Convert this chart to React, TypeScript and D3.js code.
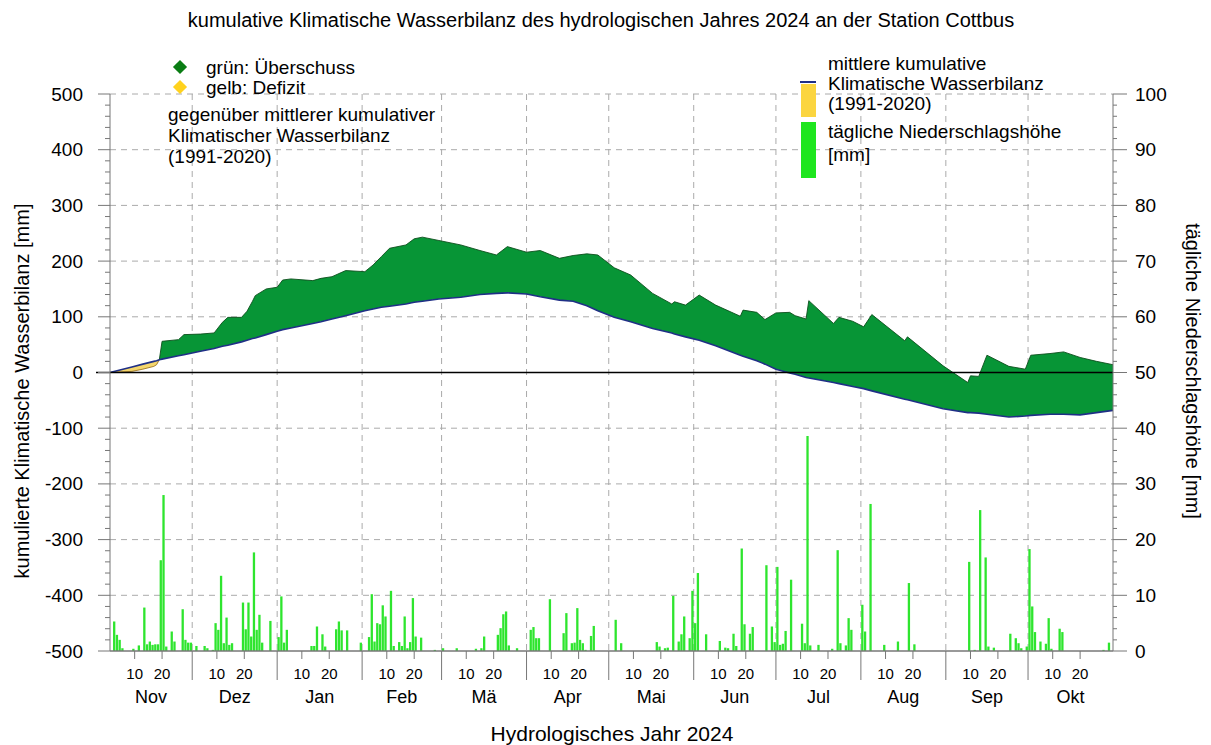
import * as d3 from 'd3';
import React from 'react';

// hydrological year Nov 2023 - Oct 2024, day 0 = 1 Nov
const monthNames = ['Nov', 'Dez', 'Jan', 'Feb', 'Mä', 'Apr', 'Mai', 'Jun', 'Jul', 'Aug', 'Sep', 'Okt'];
const monthDays = [30, 31, 31, 29, 31, 30, 31, 30, 31, 31, 30, 31];
const dayTicks = [10, 20];

const leftTicks = [500, 400, 300, 200, 100, 0, -100, -200, -300, -400, -500];
const rightTicks = [100, 90, 80, 70, 60, 50, 40, 30, 20, 10, 0];

// cumulative climatic water balance [mm]
const kwbDays = [
  0, 4, 8, 12, 16, 17, 18, 19, 25, 27, 33, 38, 41, 43, 48, 50, 52, 53, 57, 61, 63, 66, 74, 77, 81, 86, 93, 96,
  99, 102, 108, 111, 114, 120, 128, 135, 141, 145, 152, 157, 164, 169, 174, 178, 184, 190, 198, 205, 206, 210,
  215, 221, 230, 231, 236, 239, 243, 248, 250, 254, 255, 264, 266, 271, 275, 278, 290, 291, 304, 313, 314, 317,
  320, 328, 334, 336, 343, 348, 354, 360, 366,
];
const meanKwb = [
  0, 5, 10, 15, 20, 21, 23, 24, 30, 32, 38, 43, 47, 49, 55, 58, 61, 62, 68, 74, 77, 80, 88, 91, 96, 102, 111, 114,
  117, 119, 123, 126, 128, 132, 135, 140, 142, 143, 141, 136, 130, 128, 120, 111, 99, 91, 79, 71, 69, 64,
  58, 48, 31, 29, 21, 15, 6, -1, -3, -9, -10, -18, -20, -25, -29, -33, -48, -49, -65, -72, -72, -73,
  -75, -80, -78, -77, -75, -75, -76, -72, -68,
];
const actualKwb = [
  0, 1, 2, 6, 11, 14, 23, 56, 59, 68, 69, 71, 90, 99, 99, 110, 128, 138, 150, 153, 166, 168, 165, 169, 172, 183, 181, 193,
  208, 223, 229, 240, 243, 237, 229, 219, 211, 226, 216, 219, 205, 210, 213, 211, 188, 175, 142, 123, 127, 121,
  139, 121, 101, 112, 108, 95, 107, 108, 102, 96, 129, 88, 99, 92, 82, 104, 57, 64, 12, -18, -6, -7,
  31, 11, 6, 31, 34, 37, 27, 20, 14,
];

// daily precipitation [mm]
const precipDays = [
  1, 2, 3, 4, 8, 10, 12, 13, 14, 15, 16, 17, 18, 19, 20, 22, 23, 26, 27, 28, 29,
  31, 34, 35, 37, 38, 39, 40, 41, 42, 43, 44, 48, 49, 50, 51, 52, 53, 54, 55, 58,
  61, 62, 63, 64, 73, 74, 75, 77, 78, 82, 83, 84, 86, 91,
  94, 95, 96, 97, 98, 99, 100, 102, 103, 105, 106, 107, 108, 109, 110, 111, 113, 118,
  121, 126, 133, 135, 136, 141, 142, 143, 144, 145, 148,
  153, 154, 155, 156, 160, 165, 166, 168, 169, 170, 171, 172, 173, 175, 176,
  184, 186, 199, 200, 202, 203, 205, 207, 208, 209, 211,
  212, 213, 214, 217, 222, 224, 225, 227, 228, 230, 231, 233, 234, 239, 241,
  242, 243, 244, 245, 246, 248, 252, 253, 254, 255, 258, 263, 265, 266, 268, 269, 270,
  274, 275, 277, 282, 287, 291, 293,
  313, 315, 317, 319, 320, 322, 328, 330, 331, 332, 334,
  335, 336, 337, 339, 341, 342, 343, 346, 347, 362, 364,
];
const precipMm = [
  5.3, 2.9, 2.0, 0.5, 0.4, 1.0, 7.8, 1.2, 1.7, 1.1, 1.2, 1.2, 16.3, 28.0, 0.8, 3.5, 1.7, 7.5, 2.0, 1.5, 1.5,
  0.9, 0.9, 0.5, 0.2, 5.0, 3.8, 13.5, 1.4, 6.0, 1.1, 1.4, 8.7, 3.9, 8.7, 2.6, 17.7, 3.8, 6.5, 1.5, 5.4,
  2.5, 9.8, 1.5, 3.8, 0.9, 0.9, 4.4, 3.0, 0.8, 3.9, 5.3, 3.7, 3.7, 1.5,
  2.5, 10.2, 1.7, 5.0, 4.8, 8.2, 6.2, 10.8, 0.9, 1.6, 0.9, 6.2, 0.5, 1.6, 9.5, 2.6, 2.4, 0.2,
  0.5, 0.5, 0.4, 0.5, 2.6, 2.9, 4.1, 6.6, 7.1, 1.0, 0.5,
  3.8, 4.3, 2.3, 2.3, 9.3, 3.2, 6.8, 1.4, 1.5, 7.7, 2.0, 1.4, 0.2, 2.7, 4.5,
  5.6, 1.4, 1.6, 0.8, 0.5, 0.6, 9.9, 1.7, 3.0, 6.2, 2.3,
  10.8, 5.0, 14.0, 3.0, 1.8, 0.6, 0.5, 3.1, 0.9, 18.4, 4.8, 3.1, 4.3, 15.4, 4.4,
  1.6, 15.1, 1.1, 1.3, 3.6, 12.8, 4.9, 1.4, 38.6, 1.0, 1.1, 0.4, 18.1, 1.4, 1.0, 5.9, 3.8,
  8.3, 3.5, 26.4, 1.1, 1.7, 12.2, 1.2,
  16.0, 0.2, 25.3, 16.8, 0.8, 0.6, 3.1, 2.3, 1.4, 0.5, 0.8,
  18.3, 8.0, 3.4, 1.7, 1.3, 5.9, 0.4, 4.0, 3.4, 0.2, 1.5,
];

const FONT = '"Liberation Sans", Arial, sans-serif';
const X0 = 110;
const X1 = 1113;
const Y0 = 94;
const Y1 = 651;

type Row = { d: number; m: number; a: number };

export default function App() {
  const x = d3.scaleLinear().domain([0, 366]).range([X0, X1]);
  const yL = d3.scaleLinear().domain([-500, 500]).range([Y1, Y0]);
  const yR = d3.scaleLinear().domain([0, 100]).range([Y1, Y0]);

  const monthStart = [0, ...d3.cumsum(monthDays)];
  const rows: Row[] = kwbDays.map((d, i) => ({ d, m: meanKwb[i], a: actualKwb[i] }));

  const between = d3.area<Row>().x((r) => x(r.d)).y0((r) => yL(r.m)).y1((r) => yL(r.a));
  const aboveMean = d3.area<Row>().x((r) => x(r.d)).y0(Y0).y1((r) => yL(r.m));
  const belowMean = d3.area<Row>().x((r) => x(r.d)).y0((r) => yL(r.m)).y1(Y1);
  const meanLine = d3.line<Row>().x((r) => x(r.d)).y((r) => yL(r.m));
  const actualLine = d3.line<Row>().x((r) => x(r.d)).y((r) => yL(r.a));

  const minorLeft = d3.range(-500, 501, 20);
  const grey = '#777';

  return (
    <div style={{ position: 'absolute', left: 0, top: 0 }}>
      <svg width={1211} height={745} style={{ display: 'block', background: '#fff' }} fontFamily={FONT}>
        <defs>
          <clipPath id="clipAbove">
            <path d={aboveMean(rows) ?? ''} />
          </clipPath>
          <clipPath id="clipBelow">
            <path d={belowMean(rows) ?? ''} />
          </clipPath>
        </defs>

        <text x={601} y={20} fontSize={20} textAnchor="middle" dominantBaseline="central">
          kumulative Klimatische Wasserbilanz des hydrologischen Jahres 2024 an der Station Cottbus
        </text>

        {/* grid */}
        {leftTicks
          .filter((t) => t !== 0 && t !== -500)
          .map((t) => (
            <line key={'h' + t} x1={X0} x2={X1} y1={yL(t)} y2={yL(t)} stroke="#aaa" strokeDasharray="6,5" />
          ))}
        {monthStart.slice(1, 12).map((s) => (
          <line key={'v' + s} x1={x(s)} x2={x(s)} y1={Y0} y2={Y1} stroke="#aaa" strokeDasharray="6,5" />
        ))}

        {/* precipitation bars */}
        {precipDays.map((d, i) => (
          <rect key={'b' + d} x={x(d) + 0.3} y={yR(precipMm[i])} width={2.3} height={Y1 - yR(precipMm[i])} fill="#2ee52e" />
        ))}

        {/* water balance */}
        <path d={between(rows) ?? ''} fill="#079536" clipPath="url(#clipAbove)" />
        <path d={between(rows) ?? ''} fill="#f4d66c" clipPath="url(#clipBelow)" />
        <path d={actualLine(rows) ?? ''} fill="none" stroke="#0d4f1d" strokeWidth={0.9} clipPath="url(#clipAbove)" />
        <path d={actualLine(rows) ?? ''} fill="none" stroke="#9c7422" strokeWidth={0.9} clipPath="url(#clipBelow)" />
        <path d={meanLine(rows) ?? ''} fill="none" stroke="#1f2f86" strokeWidth={1.6} />
        <line x1={96} x2={X1} y1={yL(0)} y2={yL(0)} stroke="#000" strokeWidth={1.5} />

        {/* left axis */}
        <line x1={X0} x2={X0} y1={Y0} y2={Y1} stroke={grey} />
        {minorLeft.map((t) => (
          <line key={'ml' + t} x1={t % 100 === 0 ? X0 - 12 : X0 - 5} x2={X0} y1={yL(t)} y2={yL(t)} stroke={grey} />
        ))}
        {leftTicks.map((t) => (
          <text key={'lt' + t} x={83} y={yL(t)} fontSize={19} textAnchor="end" dominantBaseline="central">
            {t}
          </text>
        ))}
        <text
          transform={`translate(22, 391) rotate(-90)`}
          fontSize={20}
          textAnchor="middle"
          dominantBaseline="central"
        >
          kumulierte Klimatische Wasserbilanz [mm]
        </text>

        {/* right axis */}
        <line x1={X1} x2={X1} y1={Y0} y2={Y1} stroke={grey} />
        {d3.range(0, 101, 2).map((t) => (
          <line key={'mr' + t} x1={X1} x2={t % 10 === 0 ? X1 + 14 : X1 + 4} y1={yR(t)} y2={yR(t)} stroke={grey} />
        ))}
        {rightTicks.map((t) => (
          <text key={'rt' + t} x={1135} y={yR(t)} fontSize={19} dominantBaseline="central">
            {t}
          </text>
        ))}
        <text
          transform={`translate(1193, 371) rotate(90)`}
          fontSize={20}
          textAnchor="middle"
          dominantBaseline="central"
        >
          tägliche Niederschlagshöhe [mm]
        </text>

        {/* bottom axis */}
        <line x1={X0} x2={X1} y1={Y1} y2={Y1} stroke={grey} strokeWidth={1.5} />
        {monthStart.slice(1, 12).map((s) => (
          <line key={'ms' + s} x1={x(s)} x2={x(s)} y1={Y1} y2={680} stroke={grey} />
        ))}
        {monthNames.map((name, i) => (
          <g key={name}>
            {dayTicks.map((dt) => (
              <g key={dt}>
                <line x1={x(monthStart[i] + dt - 1)} x2={x(monthStart[i] + dt - 1)} y1={Y1} y2={659} stroke={grey} />
                <text x={x(monthStart[i] + dt - 1)} y={673} fontSize={15} textAnchor="middle" dominantBaseline="central">
                  {dt}
                </text>
              </g>
            ))}
            <text
              x={x(monthStart[i] + monthDays[i] / 2)}
              y={697}
              fontSize={18}
              textAnchor="middle"
              dominantBaseline="central"
            >
              {name}
            </text>
          </g>
        ))}
        <text x={612} y={733} fontSize={21} textAnchor="middle" dominantBaseline="central">
          Hydrologisches Jahr 2024
        </text>

        {/* left legend */}
        <rect x={175} y={62} width={10} height={10} fill="#0a7d14" transform="rotate(45 180 67)" />
        <rect x={175} y={82} width={10} height={10} fill="#ffd21e" transform="rotate(45 180 87)" />
        <text x={206} y={67} fontSize={19} dominantBaseline="central">grün: Überschuss</text>
        <text x={206} y={87} fontSize={19} dominantBaseline="central">gelb: Defizit</text>
        <text x={168} y={114} fontSize={19} dominantBaseline="central">gegenüber mittlerer kumulativer</text>
        <text x={168} y={135} fontSize={19} dominantBaseline="central">Klimatischer Wasserbilanz</text>
        <text x={168} y={156} fontSize={19} dominantBaseline="central">(1991-2020)</text>

        {/* right legend */}
        <line x1={800} x2={816} y1={82} y2={82} stroke="#1f2f86" strokeWidth={2} />
        <rect x={801} y={84} width={15} height={33} fill="#fbd540" />
        <rect x={801} y={122} width={15} height={56} fill="#1ee61e" />
        <text x={828} y={63} fontSize={19} dominantBaseline="central">mittlere kumulative</text>
        <text x={828} y={83} fontSize={19} dominantBaseline="central">Klimatische Wasserbilanz</text>
        <text x={828} y={103} fontSize={19} dominantBaseline="central">(1991-2020)</text>
        <text x={828} y={131} fontSize={19} dominantBaseline="central">tägliche Niederschlagshöhe</text>
        <text x={828} y={154} fontSize={19} dominantBaseline="central">[mm]</text>
      </svg>
    </div>
  );
}
